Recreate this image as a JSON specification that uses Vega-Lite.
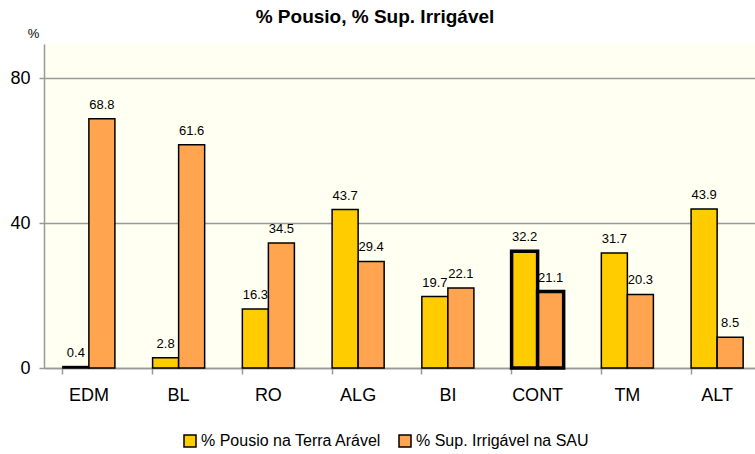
{
  "$schema": "https://vega.github.io/schema/vega-lite/v6.json",
  "width": 718,
  "height": 324,
  "autosize": "none",
  "padding": {"left": 44, "top": 44, "right": 0, "bottom": 86},
  "background": "#ffffff",
  "title": {
    "text": "% Pousio, % Sup. Irrigável",
    "font": "Liberation Sans",
    "fontSize": 19,
    "fontWeight": "bold",
    "color": "#000000",
    "anchor": "middle",
    "dx": -28,
    "offset": 0
  },
  "config": {
    "view": {"fill": "#FFFFF2", "stroke": null},
    "font": "Liberation Sans"
  },
  "data": {
    "values": [
      {"region": "EDM", "series": "% Pousio na Terra Arável", "value": 0.4},
      {"region": "EDM", "series": "% Sup. Irrigável na SAU", "value": 68.8},
      {"region": "BL", "series": "% Pousio na Terra Arável", "value": 2.8},
      {"region": "BL", "series": "% Sup. Irrigável na SAU", "value": 61.6},
      {"region": "RO", "series": "% Pousio na Terra Arável", "value": 16.3},
      {"region": "RO", "series": "% Sup. Irrigável na SAU", "value": 34.5},
      {"region": "ALG", "series": "% Pousio na Terra Arável", "value": 43.7},
      {"region": "ALG", "series": "% Sup. Irrigável na SAU", "value": 29.4},
      {"region": "BI", "series": "% Pousio na Terra Arável", "value": 19.7},
      {"region": "BI", "series": "% Sup. Irrigável na SAU", "value": 22.1},
      {"region": "CONT", "series": "% Pousio na Terra Arável", "value": 32.2},
      {"region": "CONT", "series": "% Sup. Irrigável na SAU", "value": 21.1},
      {"region": "TM", "series": "% Pousio na Terra Arável", "value": 31.7},
      {"region": "TM", "series": "% Sup. Irrigável na SAU", "value": 20.3},
      {"region": "ALT", "series": "% Pousio na Terra Arável", "value": 43.9},
      {"region": "ALT", "series": "% Sup. Irrigável na SAU", "value": 8.5}
    ]
  },
  "encoding": {
    "x": {
      "field": "region",
      "type": "nominal",
      "sort": null,
      "scale": {"paddingInner": 0.42, "paddingOuter": 0.21},
      "axis": {
        "title": null,
        "labelAngle": 0,
        "labelFontSize": 18,
        "labelColor": "#000000",
        "labelPadding": 12,
        "tickSize": 6,
        "tickColor": "#999999",
        "tickWidth": 1.5,
        "domainColor": "#999999",
        "domainWidth": 1.5,
        "bandPosition": 0,
        "grid": false
      }
    },
    "xOffset": {
      "field": "series",
      "type": "nominal",
      "sort": ["% Pousio na Terra Arável", "% Sup. Irrigável na SAU"],
      "scale": {"paddingInner": 0, "paddingOuter": 0}
    },
    "y": {
      "field": "value",
      "type": "quantitative",
      "scale": {"domain": [0, 89.4], "nice": false, "zero": true},
      "axis": {
        "title": "%",
        "titleAngle": 0,
        "titleX": -11,
        "titleY": -11,
        "titleAlign": "center",
        "titleBaseline": "middle",
        "titleFontSize": 13,
        "titleFontWeight": "normal",
        "titleColor": "#000000",
        "values": [0, 40, 80],
        "labelFontSize": 18,
        "labelColor": "#000000",
        "labelPadding": 9,
        "tickSize": 5,
        "tickColor": "#999999",
        "tickWidth": 1.5,
        "domainColor": "#999999",
        "domainWidth": 1.5,
        "grid": true,
        "gridColor": "#999999",
        "gridWidth": 1.5
      }
    }
  },
  "layer": [
    {
      "mark": {"type": "bar", "stroke": "#000000"},
      "encoding": {
        "color": {
          "field": "series",
          "type": "nominal",
          "scale": {
            "domain": ["% Pousio na Terra Arável", "% Sup. Irrigável na SAU"],
            "range": ["#FFCC00", "#FFA550"]
          },
          "legend": {
            "title": null,
            "orient": "none",
            "direction": "horizontal",
            "legendX": 138,
            "legendY": 389,
            "symbolType": "square",
            "symbolSize": 144,
            "symbolStrokeColor": "#000000",
            "symbolStrokeWidth": 1.5,
            "symbolOpacity": 1,
            "labelFontSize": 16,
            "labelColor": "#000000",
            "labelOffset": 3,
            "labelLimit": 300,
            "columnPadding": 14
          }
        },
        "opacity": {"value": 1},
        "strokeWidth": {
          "condition": {"test": "datum.region === 'CONT'", "value": 3.5},
          "value": 1.5
        }
      }
    },
    {
      "mark": {"type": "text", "baseline": "alphabetic", "dy": -10, "fontSize": 13, "color": "#000000"},
      "encoding": {
        "text": {"field": "value", "type": "quantitative", "format": ".1f"}
      }
    }
  ]
}
